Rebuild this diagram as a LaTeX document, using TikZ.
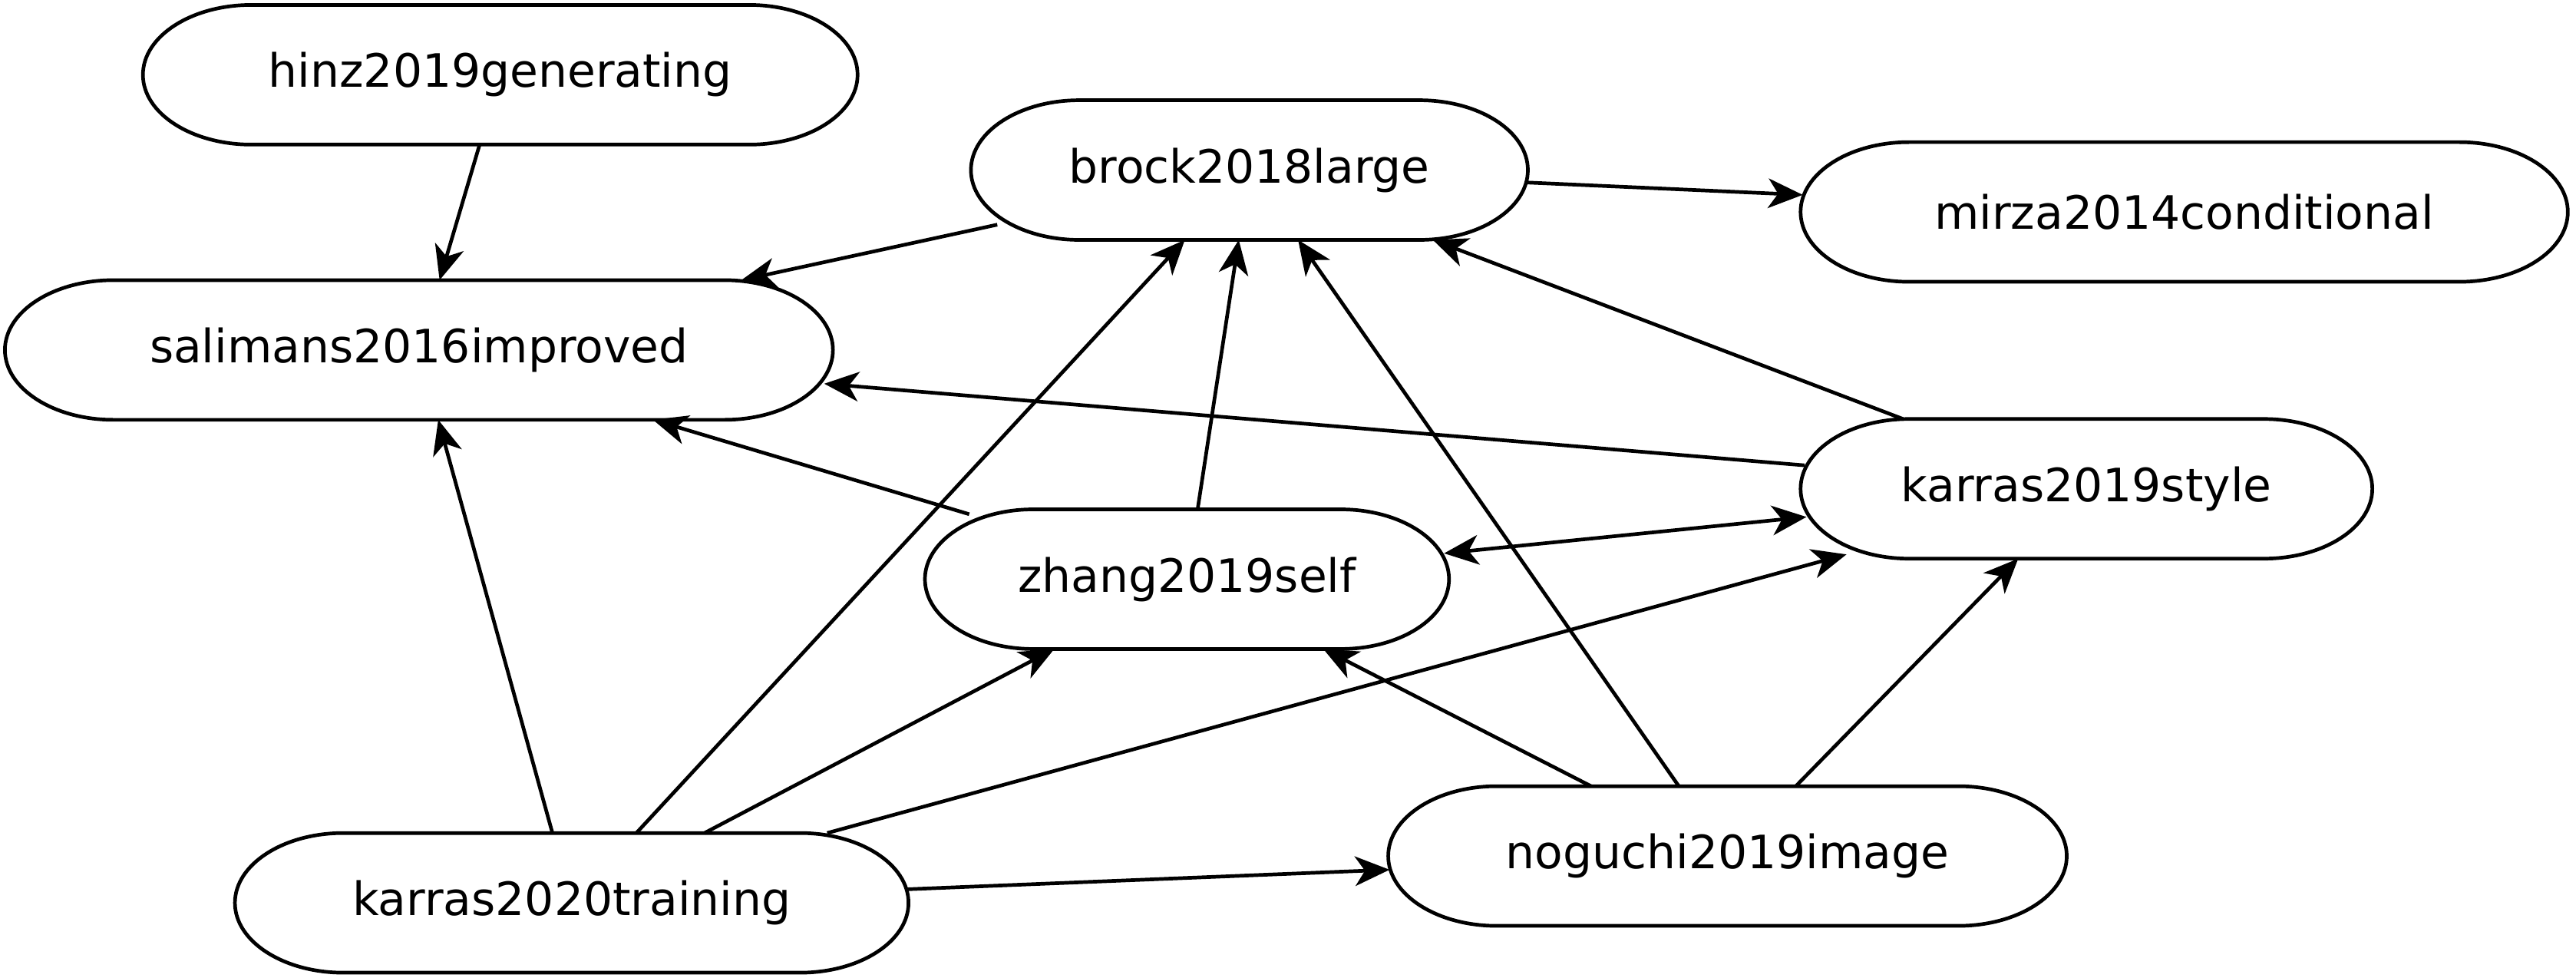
\documentclass[tikz,border=0pt]{standalone}
\usepackage{fontspec}
\setmainfont{DejaVu Sans}
\usetikzlibrary{shapes,arrows.meta,calc}

\begin{document}
\begin{tikzpicture}[x=0.5pt,y=-0.5pt,
        paper/.style={rounded rectangle,minimum height=42.5pt,inner sep=0pt,outer sep=0pt,font=\fontsize{14pt}{16pt}\selectfont},
        paperline/.style={draw=black,line width=1.1pt},
        tip/.tip={Stealth[length=10.5pt,width=9pt,inset=3pt]},
        cite/.style={line width=1.1pt,-tip}]
        \useasboundingbox (0,0) rectangle (1568,595);
        \node[paper,minimum width=217.5pt] (0) at (304.5,45.5) {hinz2019generating};
        \node[paper,minimum width=169.5pt] (1) at (760.5,103.5) {brock2018large};
        \node[paper,minimum width=233.5pt] (2) at (1329.5,129) {mirza2014conditional};
        \node[paper,minimum width=252pt] (3) at (255,213) {salimans2016improved};
        \node[paper,minimum width=174pt] (4) at (1270,297.5) {karras2019style};
        \node[paper,minimum width=159.5pt] (5) at (722.5,352.5) {zhang2019self};
        \node[paper,minimum width=205pt] (6) at (348,549.5) {karras2020training};
        \node[paper,minimum width=206.5pt] (7) at (1051.5,521) {noguchi2019image};
        % outlines with half-ellipse ends
        \foreach \n in {0,...,7}
            \draw[paperline] ($(\n.west|-\n.north)+(33pt,0)$) -- ($(\n.east|-\n.north)+(-33pt,0)$)
                arc[start angle=90,end angle=-90,x radius=33pt,y radius=21.25pt]
                -- ($(\n.west|-\n.south)+(33pt,0)$)
                arc[start angle=270,end angle=90,x radius=33pt,y radius=21.25pt] -- cycle;
        \draw[cite] (0) -- (3);
        \draw[cite] (1) -- (3);
        \draw[cite] (1) -- (2);
        \draw[cite] (4) -- (1);
        \draw[cite] (4) -- (3);
        \draw[cite] (5) -- (3);
        \draw[cite] (5) -- (1);
        \draw[cite,tip-tip] (5) -- (4);
        \draw[cite] (6) -- (3);
        \draw[cite] (6) -- (1);
        \draw[cite] (6) -- (5);
        \draw[cite] (6) -- (4);
        \draw[cite] (6) -- (7);
        \draw[cite] (7) -- (5);
        \draw[cite] (7) -- (1);
        \draw[cite] (7) -- (4);
    \end{tikzpicture}
\end{document}
